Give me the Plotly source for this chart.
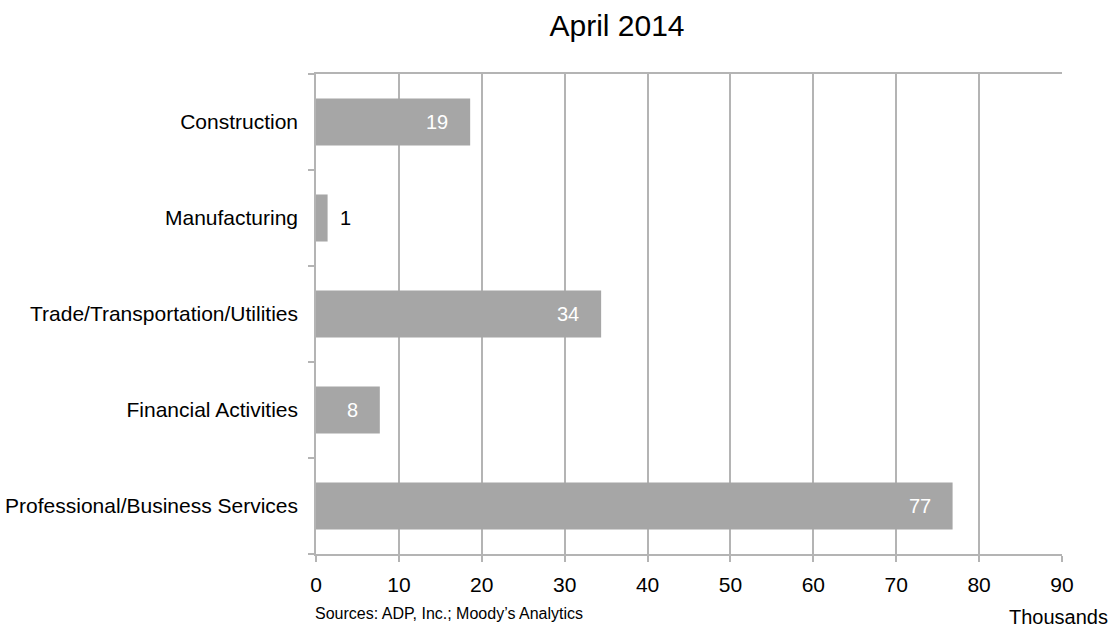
import plotly.graph_objects as go

categories = ["Construction", "Manufacturing", "Trade/Transportation/Utilities",
              "Financial Activities", "Professional/Business Services"]
values = [18.6, 1.4, 34.4, 7.7, 76.8]
labels = ["19", "1", "34", "8", "77"]
x_ticks = [0, 10, 20, 30, 40, 50, 60, 70, 80, 90]

FONT = "Liberation Sans, Arial, sans-serif"
BAR = "#A6A6A6"
GRID = "#B4B4B4"

fig = go.Figure()
fig.add_trace(go.Bar(
    x=values, y=categories, orientation="h",
    marker=dict(color=BAR, line=dict(width=0)),
    width=0.49, hoverinfo="skip",
))

annotations = []
for v, c, t in zip(values, categories, labels):
    inside = v > 5
    annotations.append(dict(
        x=v, y=c, xref="x", yref="y", text=t, showarrow=False,
        xanchor="right" if inside else "left",
        xshift=-20 if inside else 10,
        font=dict(family=FONT, size=20, color="#FFFFFF" if inside else "#000000"),
    ))

W, H = 1115, 629
ml, mr, mt, mb = 316, 53, 74, 75
pw, ph = W - ml - mr, H - mt - mb

extra = [
    dict(px=313, py=613, text="Sources: ADP, Inc.; Moody\u2019s Analytics", anchor="left", size=16),
    dict(px=1110, py=617, text="Thousands", anchor="right", size=20),
]
for e in extra:
    annotations.append(dict(
        x=(e["px"] - ml) / pw, y=(H - e["py"] - mb) / ph, xref="paper", yref="paper",
        text=e["text"], showarrow=False, xanchor=e["anchor"], yanchor="middle",
        font=dict(family=FONT, size=e["size"], color="#000000"),
    ))

fig.update_layout(
    width=W, height=H,
    margin=dict(l=ml, r=mr, t=mt, b=mb, pad=0),
    paper_bgcolor="white", plot_bgcolor="white",
    showlegend=False,
    title=dict(text="April 2014", x=617 / W, xanchor="center", y=1 - 25 / H, yanchor="middle",
               font=dict(family=FONT, size=30, color="#000000")),
    font=dict(family=FONT, color="#000000"),
    annotations=annotations,
    xaxis=dict(
        range=[0, 90], tickvals=x_ticks, ticktext=[str(t) for t in x_ticks],
        showgrid=True, gridcolor=GRID, gridwidth=1.5,
        showline=True, linecolor=GRID, linewidth=1.5, mirror=True,
        ticks="outside", ticklen=6, tickcolor=GRID, tickwidth=1.5,
        ticklabelstandoff=5, automargin=False,
        tickfont=dict(family=FONT, size=21, color="#000000"),
        zeroline=False, fixedrange=True,
    ),
    yaxis=dict(
        categoryorder="array", categoryarray=categories[::-1],
        showgrid=False, showline=True, linecolor=GRID, linewidth=1.5,
        ticks="outside", ticklen=6, tickcolor=GRID, tickwidth=1.5,
        tickson="boundaries",
        ticklabelstandoff=12, automargin=False,
        tickfont=dict(family=FONT, size=21, color="#000000"),
        zeroline=False, fixedrange=True,
    ),
)

fig.write_html("out.html", config={"displayModeBar": False},
               post_script="document.body.style.margin='0';")
